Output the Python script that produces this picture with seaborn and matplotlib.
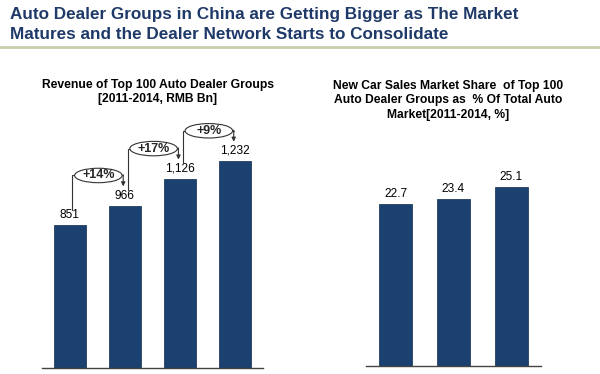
import matplotlib
matplotlib.use("Agg")
import matplotlib.pyplot as plt
from matplotlib.patches import Ellipse
import seaborn as sns
import pandas as pd

# data
rev_years = ["2011", "2012", "2013", "2014"]
rev_values = [851, 966, 1126, 1232]
rev_labels = ["851", "966", "1,126", "1,232"]
growth_labels = ["+14%", "+17%", "+9%"]

share_years = ["2012", "2013", "2014"]
share_values = [22.7, 23.4, 25.1]
share_labels = ["22.7", "23.4", "25.1"]

title_lines = ["Auto Dealer Groups in China are Getting Bigger as The Market",
               "Matures and the Dealer Network Starts to Consolidate"]
left_title = "Revenue of Top 100 Auto Dealer Groups\n[2011-2014, RMB Bn]"
right_title = ("New Car Sales Market Share  of Top 100\n"
               "Auto Dealer Groups as  % Of Total Auto\n"
               "Market[2011-2014, %]")

sns.set_theme(style="white")
plt.rcParams["font.family"] = ["Liberation Sans", "DejaVu Sans"]

bar_color = "#1a4170"
navy = "#1f3a68"

fig = plt.figure(figsize=(6, 3.74), dpi=100)
W, H = 600, 374


def px_box(x0, x1, ybase, ytop):
    return [x0 / W, (H - ybase) / H, (x1 - x0) / W, (ybase - ytop) / H]


ax1 = fig.add_axes(px_box(42, 263, 368, 60))
ax2 = fig.add_axes(px_box(366, 541, 366, 60))

df1 = pd.DataFrame({"year": rev_years, "value": rev_values})
df2 = pd.DataFrame({"year": share_years, "value": share_values})

sns.barplot(data=df1, x="year", y="value", color=bar_color, width=0.58,
            saturation=1, edgecolor="#0f2a4a", linewidth=0.5, ax=ax1)
sns.barplot(data=df2, x="year", y="value", color=bar_color, width=0.56,
            saturation=1, edgecolor="#0f2a4a", linewidth=0.5, ax=ax2)

ax1.set_xlim(-0.5, 3.5)
ax1.set_ylim(0, 308 / 0.168)
ax2.set_xlim(-0.51, 2.51)
ax2.set_ylim(0, 306 / 7.12)

for ax in (ax1, ax2):
    ax.set_xlabel("")
    ax.set_ylabel("")
    ax.set_xticks([])
    ax.set_yticks([])
    for s in ("left", "right", "top"):
        ax.spines[s].set_visible(False)
    ax.spines["bottom"].set_color("#444444")
    ax.spines["bottom"].set_linewidth(1.0)

# value labels
for i, (v, lab) in enumerate(zip(rev_values, rev_labels)):
    ax1.annotate(lab, (i, v), xytext=(0, 3), textcoords="offset points",
                 ha="center", va="bottom", fontsize=8.6, color="black")
for i, (v, lab) in enumerate(zip(share_values, share_labels)):
    ax2.annotate(lab, (i, v), xytext=(0, 3), textcoords="offset points",
                 ha="center", va="bottom", fontsize=8.6, color="black")

# growth brackets
for i, g in enumerate(growth_labels):
    xl = i + 0.05
    xr = i + 0.97
    y0 = rev_values[i] + 92
    ytop = rev_values[i + 1] + 180
    yend = rev_values[i + 1] + 115
    ax1.plot([xl, xl, xr], [y0, ytop, ytop], color="#333333", lw=0.8,
             zorder=3, solid_joinstyle="miter")
    ax1.annotate("", xy=(xr, yend), xytext=(xr, ytop + 4),
                 arrowprops=dict(arrowstyle="-|>", color="#333333", lw=0.8,
                                 mutation_scale=6, shrinkA=0, shrinkB=0),
                 zorder=3)
    xc = (xl + xr) / 2 + 0.01
    ax1.add_patch(Ellipse((xc, ytop), 0.86, 86, facecolor="white",
                          edgecolor="#333333", lw=0.8, zorder=4))
    ax1.text(xc, ytop, g, ha="center", va="center", fontsize=9,
             fontweight="bold", zorder=5)

# titles
for k, line in enumerate(title_lines):
    fig.text(10 / W, 1 - (19 + 20.3 * k) / H, line, ha="left", va="baseline",
             fontsize=12.3, fontweight="bold", color=navy)
fig.add_artist(plt.Line2D([0, 1], [1 - 46.7 / H, 1 - 46.7 / H],
                          color="#c8cfa8", lw=2))
fig.text(158 / W, 1 - 92 / H, left_title, ha="center", va="center",
         fontsize=8.7, fontweight="bold", color="black", linespacing=1.2)
fig.text(448 / W, 1 - 100.5 / H, right_title, ha="center", va="center",
         fontsize=8.7, fontweight="bold", color="black", linespacing=1.25)

fig.savefig("out.png", dpi=100)
